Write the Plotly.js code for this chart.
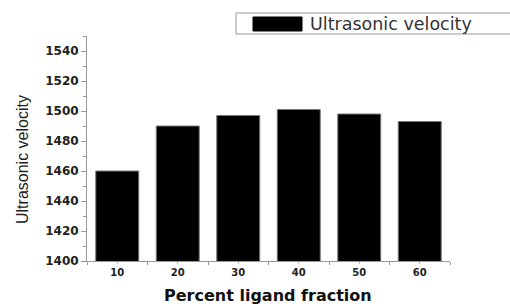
<!DOCTYPE html>
<html><head><meta charset="utf-8">
<script src="https://cdn.plot.ly/plotly-3.0.1.min.js"></script>
<style>html,body{margin:0;padding:0;background:#fff}#c{width:510px;height:304px}</style>
</head><body><div id="c"></div>
<script>
const categories = [10, 20, 30, 40, 50, 60];
const velocity = [1460, 1490, 1497, 1501, 1498, 1493];
const seriesName = "Ultrasonic velocity";
const xTitle = "Percent ligand fraction";
const yTitle = "Ultrasonic velocity";
const xTickVals = [5, 15, 25, 35, 45, 55, 65];
const yTickVals = [1400, 1420, 1440, 1460, 1480, 1500, 1520, 1540];

const L = 87, R = 450, T = 36, B = 261, W = 510, H = 304;
const px = x => (x - L) / (R - L);
const py = y => (B - y) / (B - T);
const arial = "Liberation Sans, Arial, sans-serif";
const wide = "DejaVu Sans, sans-serif";

const data = [{
  type: 'bar', x: categories, y: velocity, name: seriesName, width: 7.1,
  marker: {color: '#000', line: {color: '#777', width: 1}},
  showlegend: false, hoverinfo: 'none'
}, {type: 'scatter', x: [], y: [], xaxis: 'x2', showlegend: false}];

const layout = {
  width: W, height: H,
  margin: {l: L, r: W - R, t: T, b: H - B},
  paper_bgcolor: '#fff', plot_bgcolor: '#fff',
  showlegend: false,
  xaxis: {
    range: [5, 65], showgrid: false, zeroline: false,
    showline: true, linecolor: '#999', linewidth: 1,
    tickmode: 'array', tickvals: xTickVals, ticktext: xTickVals.map(() => ''),
    ticks: 'outside', ticklen: 3, tickcolor: '#999'
  },
  xaxis2: {
    overlaying: 'x', anchor: 'y', side: 'bottom', range: [5, 65],
    showgrid: false, zeroline: false, showline: false,
    tickmode: 'array', tickvals: categories, ticks: 'outside', ticklen: 2, tickcolor: '#bbb',
    tickfont: {family: wide, size: 10, color: '#222', weight: 'bold'}
  },
  yaxis: {
    range: [1400, 1550], showgrid: false, zeroline: false,
    showline: true, linecolor: '#999', linewidth: 1,
    tickmode: 'array', tickvals: yTickVals,
    ticks: 'outside', ticklen: 5, tickcolor: '#999',
    minor: {dtick: 10, tick0: 1400, ticks: 'outside', ticklen: 3, tickcolor: '#999'},
    tickfont: {family: wide, size: 12, color: '#222', weight: 'bold'}
  },
  shapes: [
    {type: 'rect', xref: 'paper', yref: 'paper', x0: px(236), x1: px(520), y0: py(34), y1: py(13),
     line: {color: '#999', width: 1}, fillcolor: '#fff', layer: 'above'},
    {type: 'rect', xref: 'paper', yref: 'paper', x0: px(253), x1: px(302), y0: py(31), y1: py(17),
     line: {color: '#000', width: 1}, fillcolor: '#000', layer: 'above'}
  ],
  annotations: [
    {xref: 'paper', yref: 'paper', x: px(308), y: py(24), xanchor: 'left', yanchor: 'middle',
     text: seriesName, showarrow: false, font: {family: wide, size: 17.5, color: '#333'}},
    {xref: 'paper', yref: 'paper', x: px(268), y: py(295), xanchor: 'center', yanchor: 'middle',
     text: '<b>' + xTitle + '</b>', showarrow: false, font: {family: wide, size: 16, color: '#111'}},
    {xref: 'paper', yref: 'paper', x: px(22), y: py(160), xanchor: 'center', yanchor: 'middle',
     textangle: -90, text: yTitle, showarrow: false, font: {family: arial, size: 16, color: '#222'}}
  ]
};
Plotly.newPlot('c', data, layout, {displayModeBar: false, staticPlot: true});
</script></body></html>
